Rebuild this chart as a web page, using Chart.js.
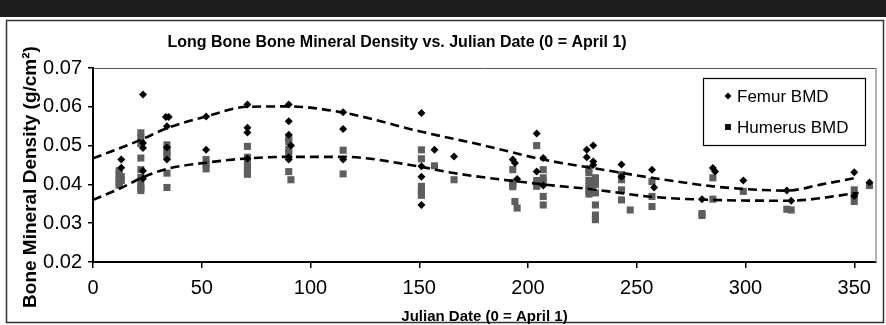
<!DOCTYPE html>
<html>
<head>
<meta charset="utf-8">
<title>Long Bone BMD vs Julian Date</title>
<script src="https://cdn.jsdelivr.net/npm/chart.js@4.4.1/dist/chart.umd.min.js"></script>
<style>
  html, body { margin: 0; padding: 0; background: #fff; }
  #wrap { position: relative; width: 886px; height: 325px; }
</style>
</head>
<body>
<div id="wrap"><canvas id="bmdChart" width="886" height="325"></canvas></div>
<script>
// Femur BMD samples (day, g/cm2)
var femurDays = [13, 13, 23, 23, 23, 23, 23, 33.5, 34.8, 34, 34, 34, 52, 52, 71, 71, 71, 71,
  90, 90, 90, 91, 90, 90, 115, 115, 115, 151, 151, 151, 151, 157, 166, 193, 194, 195,
  204, 204, 207, 207, 227, 227, 230, 230, 230, 243, 243, 257, 258, 280, 285, 286,
  299, 319, 321, 350, 350, 357];
var femurBMD = [0.0464, 0.0443, 0.0632, 0.0507, 0.0494, 0.0435, 0.0415, 0.0574, 0.0574, 0.0550, 0.0495, 0.0464, 0.0575, 0.0489, 0.0606, 0.0546, 0.0534, 0.0467,
  0.0606, 0.0563, 0.0528, 0.0500, 0.0470, 0.0464, 0.0586, 0.0543, 0.0464, 0.0584, 0.0447, 0.0420, 0.0347, 0.0489, 0.0472, 0.0464, 0.0455, 0.0414,
  0.0531, 0.0433, 0.0468, 0.0397, 0.0489, 0.0470, 0.0500, 0.0459, 0.0450, 0.0451, 0.0420, 0.0438, 0.0392, 0.0362, 0.0442, 0.0433,
  0.0410, 0.0384, 0.0358, 0.0431, 0.0370, 0.0405];

// Humerus BMD samples (day, g/cm2)
var humerusDays = [12, 12, 12, 12, 12, 13, 13, 22, 22, 22, 22, 22, 22, 22, 22, 22,
  34, 34, 34, 34, 34, 34, 52, 52, 52, 71, 71, 71, 71, 71, 71, 90, 90, 90, 90, 90, 91,
  115, 115, 151, 151, 151, 151, 151, 151, 157, 166, 193, 193, 193, 193, 194, 195,
  204, 204, 204, 204, 207, 207, 207, 207, 207, 228, 228, 228, 228, 228, 228,
  231, 231, 231, 231, 231, 231, 243, 243, 243, 243, 247, 257, 257, 257, 280, 280,
  285, 285, 299, 319, 321, 350, 350, 350, 357];
var humerusBMD = [0.0435, 0.0425, 0.0415, 0.0405, 0.0398, 0.0420, 0.0410, 0.0533, 0.0520, 0.0505, 0.0468, 0.0438, 0.0418, 0.0400, 0.0391, 0.0384,
  0.0502, 0.0490, 0.0482, 0.0472, 0.0429, 0.0392, 0.0464, 0.0452, 0.0440, 0.0498, 0.0470, 0.0458, 0.0445, 0.0435, 0.0426, 0.0520, 0.0510, 0.0490, 0.0480, 0.0433, 0.0412,
  0.0488, 0.0427, 0.0489, 0.0466, 0.0395, 0.0386, 0.0378, 0.0372, 0.0448, 0.0412, 0.0438, 0.0405, 0.0399, 0.0394, 0.0356, 0.0339,
  0.0500, 0.0410, 0.0403, 0.0395, 0.0438, 0.0417, 0.0405, 0.0369, 0.0347, 0.0440, 0.0430, 0.0410, 0.0395, 0.0385, 0.0375,
  0.0417, 0.0400, 0.0378, 0.0347, 0.0321, 0.0309, 0.0425, 0.0412, 0.0386, 0.0360, 0.0334, 0.0407, 0.0369, 0.0343, 0.0325, 0.0320,
  0.0417, 0.0362, 0.0382, 0.0336, 0.0334, 0.0386, 0.0371, 0.0356, 0.0397];

// poly trendlines
var femurTrendDays = [0, 22, 34, 52, 71, 90, 115, 150, 180, 207, 230, 257, 285, 300, 319, 335, 352];
var femurTrendBMD = [0.0467, 0.0515, 0.0545, 0.0575, 0.0600, 0.0601, 0.0585, 0.0537, 0.0500, 0.0464, 0.0442, 0.0417, 0.0395, 0.0388, 0.0384, 0.0400, 0.0418];
var humerusTrendDays = [0, 13, 22, 34, 52, 71, 90, 115, 150, 165, 207, 230, 257, 285, 320, 352];
var humerusTrendBMD = [0.0360, 0.0391, 0.0416, 0.0440, 0.0456, 0.0467, 0.0471, 0.0471, 0.0446, 0.0430, 0.0400, 0.0387, 0.0368, 0.0360, 0.0358, 0.0378];

var legendLabels = ['Femur BMD', 'Humerus BMD'];
var chartTitle = 'Long Bone Bone Mineral Density vs. Julian Date (0 = April 1)';
var yTitle = 'Bone Mineral Density (g/cm\u00B2)';
var xTitle = 'Julian Date (0 = April 1)';

var FONT = '"Liberation Sans", Arial, sans-serif';

function toPoints(xs, ys) {
  return xs.map(function (x, i) { return { x: x, y: ys[i] }; });
}

Chart.defaults.font.family = FONT;
Chart.defaults.color = '#000';

// page decoration: dark band on top, outer frame, plot-area border, titles, legend box
var decorPlugin = {
  id: 'decor',
  beforeDraw: function (chart) {
    var ctx = chart.ctx;
    ctx.save();
    ctx.fillStyle = '#fff';
    ctx.fillRect(0, 0, chart.width, chart.height);
    ctx.fillStyle = '#1c1c1c';
    ctx.fillRect(0, 0, chart.width, 17);
    ctx.strokeStyle = '#333';
    ctx.lineWidth = 1.5;
    ctx.strokeRect(6.5, 20.5, 877, 302);

    // chart title (placed like the original, left of centre)
    ctx.fillStyle = '#000';
    ctx.textAlign = 'center';
    ctx.textBaseline = 'middle';
    ctx.font = 'bold 16px ' + FONT;
    ctx.fillText(chartTitle, 397, 43);

    // y axis title
    ctx.translate(31, 177);
    ctx.rotate(-Math.PI / 2);
    ctx.font = 'bold 19px ' + FONT;
    ctx.fillText(yTitle, 0, 0);
    ctx.restore();
  },
  beforeDatasetsDraw: function (chart) {
    var a = chart.chartArea, ctx = chart.ctx;
    ctx.save();
    ctx.lineWidth = 1;
    ctx.strokeStyle = '#555';
    ctx.beginPath();
    ctx.moveTo(a.left, a.top + 0.5);
    ctx.lineTo(a.right, a.top + 0.5);
    ctx.stroke();
    ctx.strokeStyle = '#9a9a9a';
    ctx.lineWidth = 1.5;
    ctx.beginPath();
    ctx.moveTo(a.right, a.top);
    ctx.lineTo(a.right, a.bottom);
    ctx.stroke();
    ctx.restore();
  },
  afterDraw: function (chart) {
    var a = chart.chartArea, ctx = chart.ctx;
    var bx = a.right - 173, by = a.top + 10, bw = 162, bh = 67;
    ctx.save();
    ctx.fillStyle = '#fff';
    ctx.fillRect(bx, by, bw, bh);
    ctx.strokeStyle = '#000';
    ctx.lineWidth = 1.2;
    ctx.strokeRect(bx + 0.5, by + 0.5, bw, bh);
    // diamond
    var mx = bx + 25, y1 = by + 18, y2 = by + 49;
    ctx.fillStyle = '#000';
    ctx.beginPath();
    ctx.moveTo(mx, y1 - 3.5);
    ctx.lineTo(mx + 3.5, y1);
    ctx.lineTo(mx, y1 + 3.5);
    ctx.lineTo(mx - 3.5, y1);
    ctx.closePath();
    ctx.fill();
    ctx.fillStyle = '#111';
    ctx.fillRect(mx - 3, y2 - 3, 6, 6);
    ctx.fillStyle = '#000';
    ctx.font = '17px ' + FONT;
    ctx.textBaseline = 'middle';
    ctx.textAlign = 'left';
    ctx.fillText(legendLabels[0], bx + 34, y1 + 1);
    ctx.fillText(legendLabels[1], bx + 34, y2 + 1);
    ctx.restore();
  }
};

var bmdChart = new Chart(document.getElementById('bmdChart'), {
  type: 'scatter',
  plugins: [decorPlugin],
  data: {
    datasets: [{
      label: 'Femur trend',
      data: toPoints(femurTrendDays, femurTrendBMD),
      showLine: true,
      pointRadius: 0,
      borderColor: '#000',
      borderWidth: 2.6,
      borderDash: [9, 5],
      cubicInterpolationMode: 'monotone',
      order: 0
    }, {
      label: 'Humerus trend',
      data: toPoints(humerusTrendDays, humerusTrendBMD),
      showLine: true,
      pointRadius: 0,
      borderColor: '#000',
      borderWidth: 2.6,
      borderDash: [9, 5],
      cubicInterpolationMode: 'monotone',
      order: 0
    }, {
      label: legendLabels[0],
      data: toPoints(femurDays, femurBMD),
      pointStyle: 'rectRot',
      pointRadius: 4,
      pointBorderWidth: 0,
      backgroundColor: '#000',
      borderColor: '#000',
      order: 1
    }, {
      label: legendLabels[1],
      data: toPoints(humerusDays, humerusBMD),
      pointStyle: 'rect',
      pointRadius: 5,
      pointBorderWidth: 0,
      backgroundColor: '#5e5e5e',
      borderColor: '#5e5e5e',
      order: 2
    }]
  },
  options: {
    responsive: false,
    animation: false,
    events: [],
    layout: { padding: { left: 22, top: 68, right: 10, bottom: 0 } },
    plugins: {
      legend: { display: false },
      tooltip: { enabled: false },
      title: { display: false }
    },
    scales: {
      x: {
        type: 'linear',
        min: 0,
        max: 360,
        afterFit: function (s) { s.height = 63; },
        ticks: { stepSize: 50, includeBounds: false, font: { size: 20 }, padding: 8, color: '#000' },
        grid: { drawOnChartArea: false, drawTicks: true, tickLength: 6, color: '#000', lineWidth: 1.5 },
        border: { display: true, color: '#000', width: 2 },
        title: {
          display: true,
          text: xTitle,
          font: { size: 15, weight: 'bold' },
          color: '#000',
          padding: { top: 0, bottom: -1 }
        }
      },
      y: {
        type: 'linear',
        min: 0.02,
        max: 0.07,
        afterFit: function (s) { s.width = 71; },
        ticks: {
          stepSize: 0.01,
          includeBounds: false,
          font: { size: 20 },
          padding: 6,
          color: '#000',
          callback: function (v) { return v.toFixed(2); }
        },
        grid: { drawOnChartArea: false, drawTicks: true, tickLength: 5, color: '#000', lineWidth: 1.5 },
        border: { display: true, color: '#000', width: 2 },
        title: { display: false }
      }
    }
  }
});
</script>
</body>
</html>
